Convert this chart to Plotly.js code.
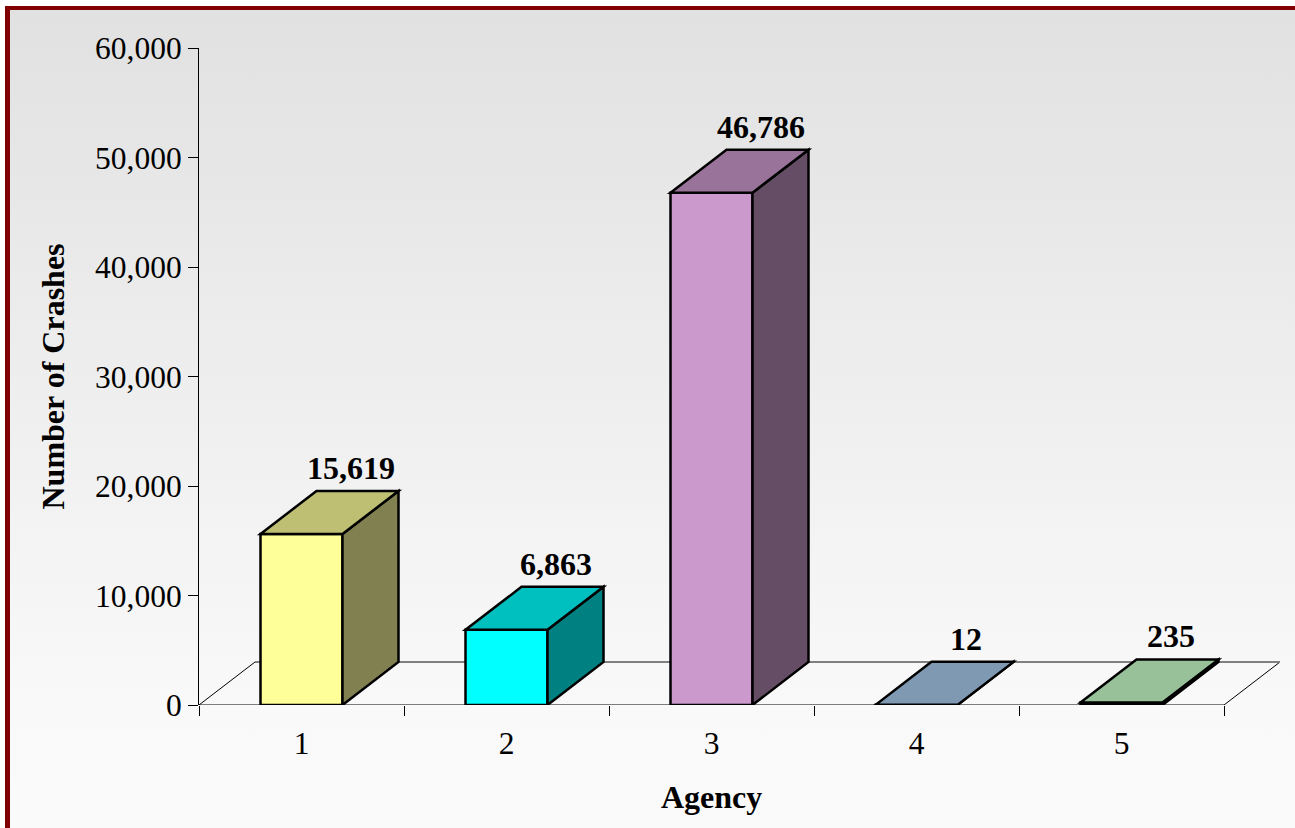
<!DOCTYPE html>
<html>
<head>
<meta charset="utf-8">
<script src="https://cdn.plot.ly/plotly-3.0.1.min.js"></script>
<style>
  html, body { margin: 0; padding: 0; background: #ffffff; width: 1295px; height: 828px; overflow: hidden; }
  #bg { position: absolute; left: 5px; top: 6px; width: 1290px; height: 822px; box-sizing: border-box;
        border-left: 5px solid #800000; border-top: 4px solid #800000;
        background: linear-gradient(to bottom, #e1e1e1 0%, #eeeeee 45%, #f9f9f9 85%, #fafafa 100%); }
  #chart { position: absolute; left: 0; top: 0; width: 1295px; height: 828px; }
</style>
</head>
<body>
<div id="bg"></div>
<div id="chart"></div>
<script>
// ---- data ----
const categories = ['1', '2', '3', '4', '5'];
const crashes = [15619, 6863, 46786, 12, 235];
const yTickValues = [0, 10000, 20000, 30000, 40000, 50000, 60000];
const xTitle = 'Agency';
const yTitle = 'Number of Crashes';

// ---- styles ----
const frontColors = ['#ffff99', '#00ffff', '#cc99cc', '#a9ccef', '#ccffcc'];
const topColors   = ['#bfbf73', '#00bfbf', '#997399', '#7f99b3', '#99c199'];
const sideColors  = ['#808050', '#008080', '#664d66', '#556677', '#668066'];

const W = 1295, H = 828;
const M = { l: 199, r: 15, t: 48, b: 123 };
const depthPx = { x: 56, y: 43 };
const n = categories.length;
const plotW = W - M.l - M.r;
const plotH = H - M.t - M.b;
const catPx = (plotW - depthPx.x) / n;
const yMax = 60000;
const ddx = depthPx.x / catPx;
const ddy = depthPx.y / plotH * yMax;
const halfW = 0.2;
const xs = categories.map((c, i) => i + 1);

const font = 'Liberation Serif, Times New Roman, serif';

const shapes = [];
// floor
shapes.push({ type: 'line', layer: 'below', xref: 'x', yref: 'y', x0: 0.5, y0: 0, x1: 0.5 + ddx, y1: ddy, line: { color: '#000', width: 1 } });
shapes.push({ type: 'line', layer: 'below', xref: 'x', yref: 'y', x0: n + 0.5, y0: 0, x1: n + 0.5 + ddx, y1: ddy, line: { color: '#000', width: 1 } });
shapes.push({ type: 'line', layer: 'below', xref: 'x', yref: 'y', x0: 0.5 + ddx, y0: ddy, x1: n + 0.5 + ddx, y1: ddy, line: { color: '#808080', width: 2 } });
shapes.push({ type: 'line', layer: 'below', xref: 'x', yref: 'y', x0: 0.5, y0: 0, x1: n + 0.5, y1: 0, line: { color: '#000', width: 1 } });

// 3D faces
xs.forEach((x, i) => {
  const v = crashes[i];
  const x0 = x - halfW, x1 = x + halfW;
  shapes.push({ type: 'path', layer: 'above', xref: 'x', yref: 'y',
    path: `M ${x1} 0 L ${x1 + ddx} ${ddy} L ${x1 + ddx} ${v + ddy} L ${x1} ${v} Z`,
    fillcolor: sideColors[i], line: { color: '#000', width: 2.5 } });
  shapes.push({ type: 'path', layer: 'above', xref: 'x', yref: 'y',
    path: `M ${x0} ${v} L ${x0 + ddx} ${v + ddy} L ${x1 + ddx} ${v + ddy} L ${x1} ${v} Z`,
    fillcolor: topColors[i], line: { color: '#000', width: 2.5 } });
});

const annotations = xs.map((x, i) => ({
  x: x + 0.24, y: crashes[i] + ddy, xref: 'x', yref: 'y',
  text: crashes[i].toLocaleString('en-US'), showarrow: false,
  xanchor: 'center', yanchor: 'bottom', yshift: 3,
  font: { family: font, size: 32, color: '#000', weight: 'bold' }
}));
annotations.push({
  x: (n + 1) / 2, xref: 'x', y: 0, yref: 'paper', yanchor: 'middle', yshift: -92,
  text: xTitle, showarrow: false,
  font: { family: font, size: 32, color: '#000', weight: 'bold' }
});

const trace = {
  type: 'bar', x: xs, y: crashes, width: 0.4,
  marker: { color: frontColors, line: { color: '#000', width: 2.5 } },
  hoverinfo: 'x+y', cliponaxis: false
};

const layout = {
  width: W, height: H, margin: M,
  paper_bgcolor: 'rgba(0,0,0,0)', plot_bgcolor: 'rgba(0,0,0,0)',
  showlegend: false,
  font: { family: font, size: 31.5, color: '#000' },
  xaxis: {
    range: [0.5, n + 0.5 + ddx], tickmode: 'array', tickvals: xs, ticktext: categories,
    ticks: 'outside', ticklen: 10, tickcolor: 'rgba(0,0,0,0)',
    minor: { tickmode: 'array', tickvals: Array.from({ length: n + 1 }, (_, k) => k + 0.5), ticks: 'outside', ticklen: 10, tickcolor: '#000', tickwidth: 1, showgrid: false },
    showline: false, showgrid: false, zeroline: false, fixedrange: true,
    tickfont: { family: font, size: 31.5, color: '#000' }
  },
  yaxis: {
    range: [0, yMax], tickmode: 'array', tickvals: yTickValues, tickformat: ',',
    ticks: 'outside', ticklen: 10, tickcolor: '#000', tickwidth: 1,
    showline: true, linecolor: '#000', linewidth: 1, showgrid: false, zeroline: false, fixedrange: true,
    tickfont: { family: font, size: 31.5, color: '#000' },
    title: { text: yTitle, font: { family: font, size: 32, color: '#000', weight: 'bold' }, standoff: 20 }
  },
  shapes: shapes,
  annotations: annotations
};

Plotly.newPlot('chart', [trace], layout, { displayModeBar: false, staticPlot: true });
</script>
</body>
</html>
